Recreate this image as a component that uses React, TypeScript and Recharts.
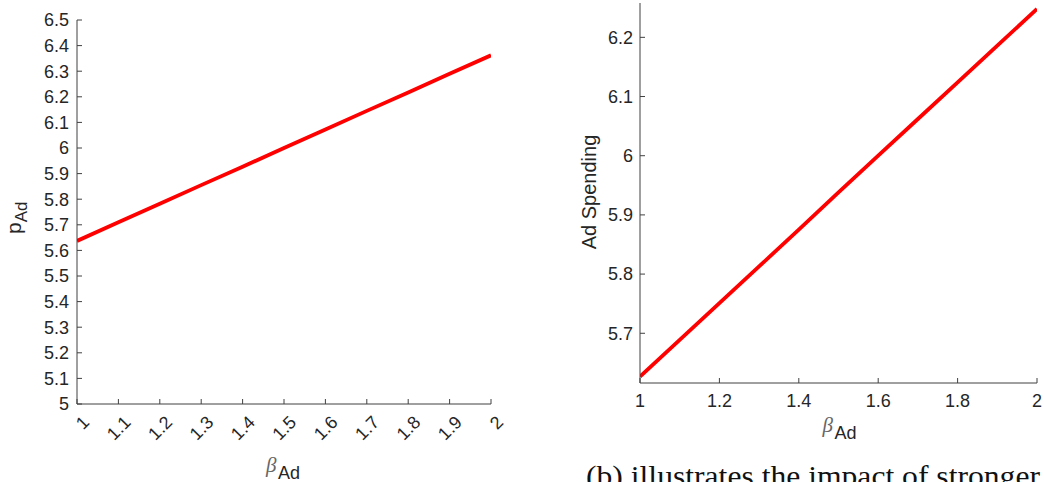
import { LineChart, Line, XAxis, YAxis } from "recharts"

// β_Ad sweep shared by both panels
const betaValues = [1, 1.1, 1.2, 1.3, 1.4, 1.5, 1.6, 1.7, 1.8, 1.9, 2]
// optimal price p_Ad
const priceValues = [5.637, 5.71, 5.782, 5.855, 5.927, 6.0, 6.072, 6.145, 6.217, 6.29, 6.362]
// optimal ad spending
const spendValues = [5.627, 5.689, 5.751, 5.813, 5.875, 5.938, 6.0, 6.062, 6.124, 6.186, 6.248]

const priceXTicks = [1, 1.1, 1.2, 1.3, 1.4, 1.5, 1.6, 1.7, 1.8, 1.9, 2]
const priceYTicks = [5, 5.1, 5.2, 5.3, 5.4, 5.5, 5.6, 5.7, 5.8, 5.9, 6, 6.1, 6.2, 6.3, 6.4, 6.5]
const spendXTicks = [1, 1.2, 1.4, 1.6, 1.8, 2]
const spendYTicks = [5.7, 5.8, 5.9, 6, 6.1, 6.2]

const priceData = betaValues.map((b, i) => ({ beta: b, value: priceValues[i] }))
const spendData = betaValues.map((b, i) => ({ beta: b, value: spendValues[i] }))

const AXIS = "#404040"
const TEXT = "#262626"
const SANS = "'Liberation Sans', Arial, Helvetica, sans-serif"
const SERIF = "'Liberation Serif', 'Times New Roman', serif"
const TICK_LEN = 5
const TICK_FONT = 18

// inward tick + label, bottom axis
const BottomTick = (props: any) => {
	const { x, y, payload, rotate } = props
	return (
		<g>
			<line x1={x} y1={y} x2={x} y2={y - TICK_LEN} stroke={AXIS} />
			{rotate ? (
				<text
					x={x + 9}
					y={y + 15}
					transform={`rotate(-45, ${x + 9}, ${y + 15})`}
					textAnchor="end"
					dy="0.35em"
					fontFamily={SANS}
					fontSize={TICK_FONT}
					fill={TEXT}
				>
					{String(payload.value)}
				</text>
			) : (
				<text x={x} y={y + 24} textAnchor="middle" fontFamily={SANS} fontSize={TICK_FONT} fill={TEXT}>
					{String(payload.value)}
				</text>
			)}
		</g>
	)
}

const LeftTick = (props: any) => {
	const { x, y, payload, gap } = props
	return (
		<g>
			<line x1={x} y1={y} x2={x + TICK_LEN} y2={y} stroke={AXIS} />
			<text x={x - gap} y={y} dy="0.35em" textAnchor="end" fontFamily={SANS} fontSize={TICK_FONT} fill={TEXT}>
				{String(payload.value)}
			</text>
		</g>
	)
}

// box sides: tick marks only
const TopTick = (props: any) => {
	const { x, y } = props
	return <line x1={x} y1={y} x2={x} y2={y + TICK_LEN} stroke={AXIS} />
}

const RightTick = (props: any) => {
	const { x, y } = props
	return <line x1={x} y1={y} x2={x - TICK_LEN} y2={y} stroke={AXIS} />
}

const BetaTitle = ({ x, y }: { x: number; y: number }) => (
	<g>
		<text x={x} y={y} fontFamily={SERIF} fontStyle="italic" fontSize={21} fill="#666">
			β
		</text>
		<text x={x + 12} y={y + 7} fontFamily={SANS} fontSize={18} fill={TEXT}>
			Ad
		</text>
	</g>
)

const axisCommon = {
	type: "number" as const,
	tickLine: false,
	tickSize: 0,
	tickMargin: 0,
	interval: 0 as const,
	stroke: AXIS,
	allowDataOverflow: true,
}

const App = () => {
	return (
		<div style={{ position: "absolute", left: 0, top: 0, width: 1044, height: 482, background: "#fff" }}>
			<div style={{ position: "absolute", left: 0, top: 0 }}>
				<LineChart width={520} height={482} data={priceData} margin={{ top: 20, right: 29, left: 17, bottom: 18 }}>
					<XAxis
						{...axisCommon}
						dataKey="beta"
						domain={[1, 2]}
						ticks={priceXTicks}
						height={60}
						tick={(p: any) => <BottomTick {...p} rotate />}
						label={{
							content: (p: any) => <BetaTitle x={p.viewBox.x + p.viewBox.width / 2 - 18} y={p.viewBox.y + 68} />,
						}}
					/>
					<XAxis
						{...axisCommon}
						xAxisId="top"
						orientation="top"
						dataKey="beta"
						domain={[1, 2]}
						ticks={priceXTicks}
						height={0}
						tick={TopTick}
					/>
					<YAxis
						{...axisCommon}
						domain={[5, 6.5]}
						ticks={priceYTicks}
						width={60}
						tick={(p: any) => <LeftTick {...p} gap={8} />}
						label={{
							content: (p: any) => {
								const cx = 21
								const cy = p.viewBox.y + p.viewBox.height / 2 + 22
								return (
									<text transform={`rotate(-90, ${cx}, ${cy})`} x={cx} y={cy} fontFamily={SANS} fill={TEXT}>
										<tspan fontSize={21}>p</tspan>
										<tspan fontSize={17} dy={6}>
											Ad
										</tspan>
									</text>
								)
							},
						}}
					/>
					<YAxis
						{...axisCommon}
						yAxisId="right"
						orientation="right"
						domain={[5, 6.5]}
						ticks={priceYTicks}
						width={0}
						tick={RightTick}
					/>
					<Line
						dataKey="value"
						type="linear"
						stroke="#ff0000"
						strokeWidth={3.8}
						dot={false}
						isAnimationActive={false}
					/>
				</LineChart>
			</div>
			<div style={{ position: "absolute", left: 560, top: 0 }}>
				<LineChart width={484} height={482} data={spendData} margin={{ top: 3, right: 7, left: 20, bottom: 59 }}>
					<XAxis
						{...axisCommon}
						dataKey="beta"
						domain={[1, 2]}
						ticks={spendXTicks}
						height={40}
						tick={BottomTick}
						label={{
							content: (p: any) => <BetaTitle x={p.viewBox.x + p.viewBox.width / 2 - 16} y={p.viewBox.y + 49} />,
						}}
					/>
					<XAxis
						{...axisCommon}
						xAxisId="top"
						orientation="top"
						dataKey="beta"
						domain={[1, 2]}
						ticks={spendXTicks}
						height={0}
						tick={TopTick}
					/>
					<YAxis
						{...axisCommon}
						domain={[5.616, 6.258]}
						ticks={spendYTicks}
						width={60}
						tick={(p: any) => <LeftTick {...p} gap={7} />}
						label={{
							content: () => {
								const cx = 36
								const cy = 192
								return (
									<text
										transform={`rotate(-90, ${cx}, ${cy})`}
										x={cx}
										y={cy}
										textAnchor="middle"
										fontFamily={SANS}
										fontSize={20}
										fill={TEXT}
									>
										Ad Spending
									</text>
								)
							},
						}}
					/>
					<YAxis
						{...axisCommon}
						yAxisId="right"
						orientation="right"
						domain={[5.616, 6.258]}
						ticks={spendYTicks}
						width={0}
						tick={RightTick}
					/>
					<Line
						dataKey="value"
						type="linear"
						stroke="#ff0000"
						strokeWidth={3.8}
						dot={false}
						isAnimationActive={false}
					/>
				</LineChart>
			</div>
			<svg width={1044} height={482} style={{ position: "absolute", left: 0, top: 0, pointerEvents: "none" }}>
				<text x={586} y={486} fontFamily={SERIF} fontSize={29} fill="#111" textLength={454} lengthAdjust="spacingAndGlyphs">
					(b) illustrates the impact of stronger
				</text>
			</svg>
		</div>
	)
}

export default App
